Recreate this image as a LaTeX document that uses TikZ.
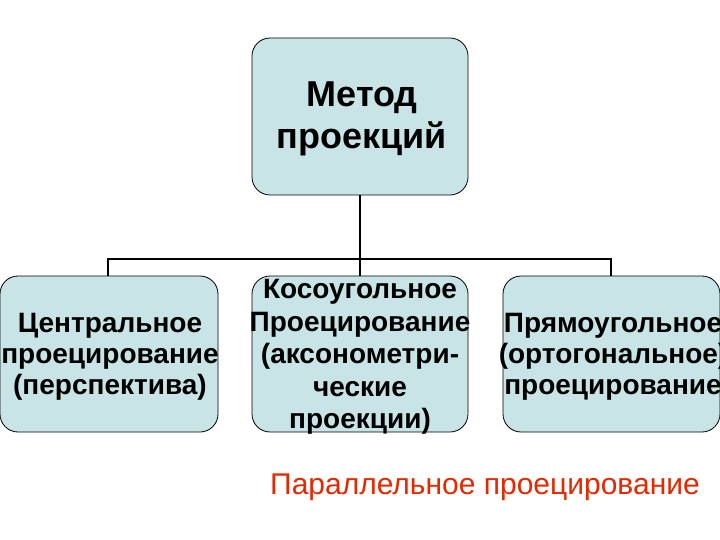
\documentclass[tikz,border=0pt]{standalone}
\usepackage{fontspec}
\setmainfont{Liberation Sans}
\definecolor{boxfill}{RGB}{200,228,230}
\definecolor{redtxt}{RGB}{230,40,0}
\begin{document}
\begin{tikzpicture}[x=1pt,y=-1pt,
 box/.style={draw=black,fill=boxfill,rounded corners=18pt,line width=0.8pt,align=center,font=\bfseries\fontsize{28}{31}\selectfont,inner sep=0pt},
 conn/.style={line width=2.2pt}]
\useasboundingbox (0,0) rectangle (720,540);
\node[box,minimum width=216pt,minimum height=157pt] (top) at (360,116.5) {};
\node[font=\bfseries\fontsize{36}{42}\selectfont,align=center] (toptext) at (362,119) {Метод\\проекций};
\node[box,minimum width=218pt,minimum height=156pt] (l) at (109,354) {};
\node[font=\bfseries\fontsize{28}{31}\selectfont,align=center] (lt) at (110,357) {Центральное\\проецирование\\(перспектива)};
\node[box,minimum width=216pt,minimum height=156pt] (m) at (360,354) {};
\node[font=\bfseries\fontsize{28}{32.5}\selectfont,align=center] (mt) at (360,357) {Косоугольное\\Проецирование\\(аксонометри-\\ческие\\проекции)};
\node[box,minimum width=217pt,minimum height=156pt] (r) at (611.5,354) {};
\node[font=\bfseries\fontsize{28}{31}\selectfont,align=center] (rt) at (613,357) {Прямоугольное\\(ортогональное)\\проецирование};
\coordinate (jl) at (108,259);
\coordinate (jr) at (611,259);
\draw[conn] (top.south) -- (m.north);
\draw[conn] (l.north -| jl) -- (jl) -- (jr) -- (r.north -| jr);
\node[text=redtxt,font=\fontsize{30}{34}\selectfont] (t) at (485,487) {Параллельное проецирование};
\end{tikzpicture}
\end{document}
